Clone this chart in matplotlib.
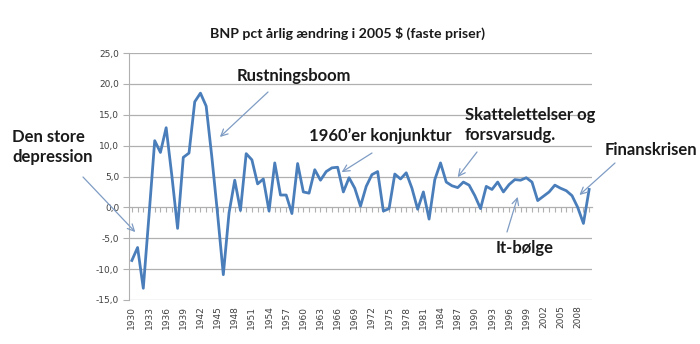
import matplotlib
matplotlib.use("Agg")
import matplotlib.pyplot as plt
import numpy as np

# Data: real GDP, pct annual change (2005 dollars)
years = list(range(1930, 2011))
growth = [-8.6, -6.5, -13.1, -1.3, 10.8, 8.9, 12.9, 5.1, -3.4, 8.1,
          8.8, 17.1, 18.5, 16.4, 8.1, -1.1, -10.9, -0.9, 4.4, -0.5,
          8.7, 7.7, 3.8, 4.6, -0.6, 7.2, 2.0, 2.0, -1.0, 7.1,
          2.5, 2.3, 6.1, 4.4, 5.8, 6.4, 6.5, 2.5, 4.8, 3.1,
          0.2, 3.4, 5.3, 5.8, -0.6, -0.2, 5.4, 4.6, 5.6, 3.1,
          -0.3, 2.5, -1.9, 4.5, 7.2, 4.1, 3.5, 3.2, 4.1, 3.6,
          1.9, -0.2, 3.4, 2.9, 4.1, 2.5, 3.7, 4.5, 4.4, 4.8,
          4.1, 1.1, 1.8, 2.5, 3.6, 3.1, 2.7, 1.9, 0.0, -2.6,
          2.9]
label_years = years[:-1:3]
y_ticks = [-15, -10, -5, 0, 5, 10, 15, 20, 25]

# annotations: text, text position (fig px), arrow start (fig px), arrow tip (data)
notes = [
    ("Den store\ndepression", (12, 147), (83, 177), (1930.6, -4.0)),
    ("Rustningsboom", (237, 76), (268, 92), (1945.4, 11.4)),
    ("1960\u2019er konjunktur", (309, 136), (372, 153), (1966.7, 5.7)),
    ("Skattelettelser og\nforsvarsudg.", (465, 125), (477, 152), (1987.0, 4.9)),
    ("It-b\u00f8lge", (496, 248), (507, 232), (1997.5, 1.7)),
    ("Finanskrisen", (605, 150), (615, 163), (2008.3, 2.0)),
]

W, H = 700, 344
fig = plt.figure(figsize=(7, 3.44), dpi=100)
ax = fig.add_axes([129 / W, 1 - 300 / H, (592 - 129) / W, (300 - 53) / H])

grid_c = "#b0b0b0"
line_c = "#4a7ebb"
arrow_c = "#7f9cc4"

ax.plot(years, growth, color=line_c, lw=2.0, solid_joinstyle="round", zorder=3)

ax.set_xlim(1929.5, 2010.5)
ax.set_ylim(-15, 25)
ax.set_yticks(y_ticks)
ax.set_yticklabels([f"{v:.1f}".replace(".", ",") for v in y_ticks],
                   fontsize=6.5, color="#404040")
for v in y_ticks:
    if v != 0:
        ax.axhline(v, color=grid_c, lw=0.9, zorder=1)

for s in ["top", "right"]:
    ax.spines[s].set_visible(False)
ax.spines["left"].set_color(grid_c)
ax.spines["bottom"].set_position(("data", 0))
ax.spines["bottom"].set_color(grid_c)
ax.spines["bottom"].set_linewidth(0.9)
ax.tick_params(axis="y", length=4, color=grid_c, pad=3)
ax.set_xticks(years)
ax.set_xticklabels([])
ax.tick_params(axis="x", length=3.5, color=grid_c, direction="out")

sec = ax.secondary_xaxis(0)
sec.set_xticks(label_years)
sec.set_xticklabels([str(y) for y in label_years], rotation=90,
                    fontsize=6.5, color="#404040")
sec.tick_params(length=0, pad=4)
sec.spines["bottom"].set_visible(False)

fig.text(347 / W, 1 - 33 / H, "BNP pct \u00e5rlig \u00e6ndring i 2005 $ (faste priser)",
         ha="center", va="center", fontsize=10.2, fontweight="bold",
         family="Lato", color="#1a1a1a")

for text, (tx, ty), (sx, sy), tip in notes:
    fig.text(tx / W, 1 - ty / H, text, ha="left", va="center", fontsize=12,
             fontweight="bold", family="Lato", color="#1a1a1a", linespacing=1.3)
    ax.annotate("", xy=tip, xycoords="data",
                xytext=(sx / W, 1 - sy / H), textcoords="figure fraction",
                arrowprops=dict(arrowstyle="->", color=arrow_c, lw=0.9,
                                shrinkA=0, shrinkB=0, mutation_scale=12),
                annotation_clip=False, zorder=4)

fig.savefig("out.png", dpi=100)
